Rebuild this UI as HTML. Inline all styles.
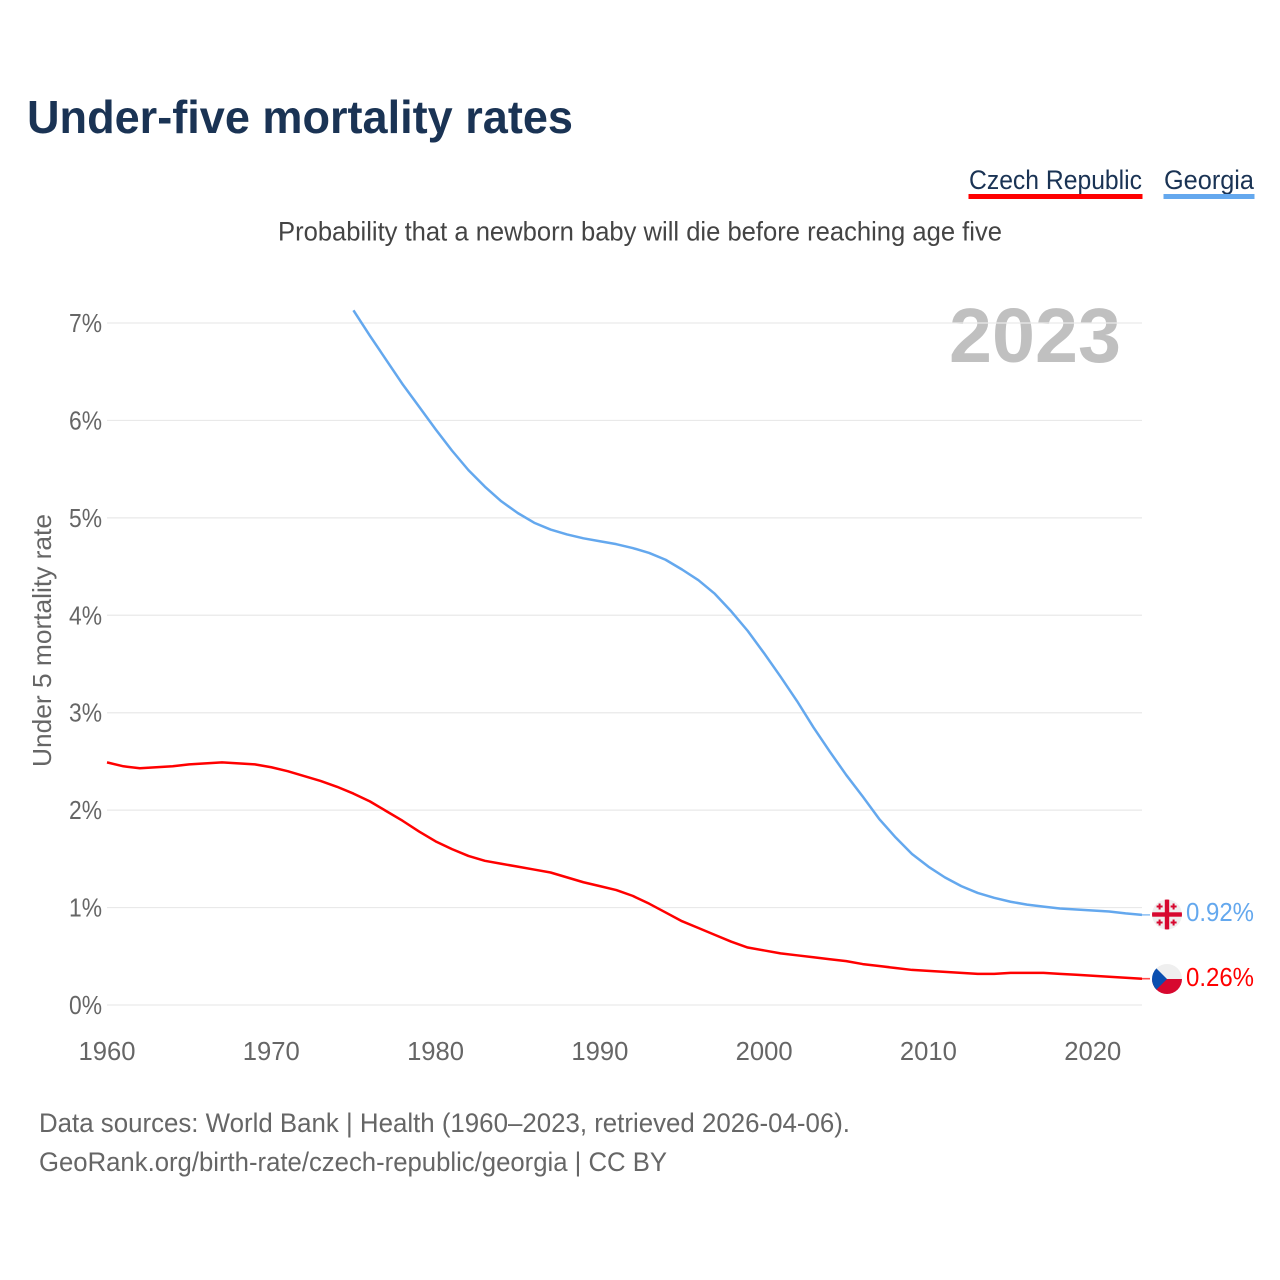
<!DOCTYPE html>
<html lang="en">
<head>
<meta charset="utf-8">
<title>Under-five mortality rates</title>
<style>
html,body{margin:0;padding:0;background:#fff;width:1280px;height:1280px;overflow:hidden}
svg{display:block}
text{font-family:"Liberation Sans",sans-serif}
</style>
</head>
<body>
<svg id="chart" width="1280" height="1280" viewBox="0 0 1280 1280" xmlns="http://www.w3.org/2000/svg">
  <defs>
    <clipPath id="clip-georgia"><circle cx="1167" cy="914.5" r="15"/></clipPath>
    <clipPath id="clip-czech"><circle cx="1167" cy="979" r="15"/></clipPath>
  </defs>
  <rect x="0" y="0" width="1280" height="1280" fill="#ffffff"/>
  <text x="27" y="133" font-size="46" font-weight="700" fill="#1a3354" textLength="546" lengthAdjust="spacingAndGlyphs">Under-five mortality rates</text>

  <text x="969" y="189" font-size="27" fill="#1a3354" textLength="173" lengthAdjust="spacingAndGlyphs">Czech Republic</text>
  <rect x="968.5" y="194" width="174" height="5" fill="#ff0000"/>
  <text x="1164" y="189" font-size="27" fill="#1a3354" textLength="90" lengthAdjust="spacingAndGlyphs">Georgia</text>
  <rect x="1163.5" y="194" width="91" height="5" fill="#64a8ee"/>

  <text x="278" y="240.5" font-size="27" fill="#444444" textLength="724" lengthAdjust="spacingAndGlyphs">Probability that a newborn baby will die before reaching age five</text>
  <text x="949" y="362" font-size="77" font-weight="700" fill="#c0c0c0" textLength="172" lengthAdjust="spacingAndGlyphs">2023</text>
  <text transform="translate(51,767) rotate(-90)" font-size="26" fill="#666666" textLength="253" lengthAdjust="spacingAndGlyphs">Under 5 mortality rate</text>

  <g id="grid"></g>
  <g id="y-ticks"></g>
  <g id="x-ticks"></g>
  <g id="series"></g>

  <g clip-path="url(#clip-georgia)">
    <rect x="1150" y="897" width="34" height="34" fill="#efefef"/>
    <rect x="1164.8" y="897" width="4.4" height="34" fill="#d7082f"/>
    <rect x="1150" y="912.3" width="34" height="4.4" fill="#d7082f"/>
    <path fill="#d7082f" d="M1158.6 903.5h2v2h2v2h-2v2h-2v-2h-2v-2h2zM1172.6 903.5h2v2h2v2h-2v2h-2v-2h-2v-2h2zM1158.6 919.5h2v2h2v2h-2v2h-2v-2h-2v-2h2zM1172.6 919.5h2v2h2v2h-2v2h-2v-2h-2v-2h2z"/>
  </g>
  <g clip-path="url(#clip-czech)">
    <rect x="1150" y="962" width="34" height="17" fill="#efefef"/>
    <rect x="1150" y="979" width="34" height="17" fill="#d7082f"/>
    <path d="M1150 962L1167 979L1150 996Z" fill="#0a4fb0"/>
  </g>

  <text id="label-georgia" x="1186" y="921" font-size="26" fill="#64a8ee" textLength="68" lengthAdjust="spacingAndGlyphs"></text>
  <text id="label-czech" x="1186" y="986" font-size="26" fill="#ff0000" textLength="68" lengthAdjust="spacingAndGlyphs"></text>

  <text x="39" y="1132" font-size="27" fill="#666666" textLength="811" lengthAdjust="spacingAndGlyphs">Data sources: World Bank | Health (1960–2023, retrieved 2026-04-06).</text>
  <text x="39" y="1171" font-size="27" fill="#666666" textLength="628" lengthAdjust="spacingAndGlyphs">GeoRank.org/birth-rate/czech-republic/georgia | CC BY</text>
</svg>
<script>
const yTickValues = [0, 1, 2, 3, 4, 5, 6, 7];
const xTickYears = [1960, 1970, 1980, 1990, 2000, 2010, 2020];
const czechYears = [1960,1961,1962,1963,1964,1965,1966,1967,1968,1969,1970,1971,1972,1973,1974,1975,1976,1977,1978,1979,1980,1981,1982,1983,1984,1985,1986,1987,1988,1989,1990,1991,1992,1993,1994,1995,1996,1997,1998,1999,2000,2001,2002,2003,2004,2005,2006,2007,2008,2009,2010,2011,2012,2013,2014,2015,2016,2017,2018,2019,2020,2021,2022,2023];
const czechValues = [2.49,2.45,2.43,2.44,2.45,2.47,2.48,2.49,2.48,2.47,2.44,2.40,2.35,2.30,2.24,2.17,2.09,1.99,1.89,1.78,1.68,1.60,1.53,1.48,1.45,1.42,1.39,1.36,1.31,1.26,1.22,1.18,1.12,1.04,0.95,0.86,0.79,0.72,0.65,0.59,0.56,0.53,0.51,0.49,0.47,0.45,0.42,0.40,0.38,0.36,0.35,0.34,0.33,0.32,0.32,0.33,0.33,0.33,0.32,0.31,0.30,0.29,0.28,0.27];
const georgiaYears = [1975,1976,1977,1978,1979,1980,1981,1982,1983,1984,1985,1986,1987,1988,1989,1990,1991,1992,1993,1994,1995,1996,1997,1998,1999,2000,2001,2002,2003,2004,2005,2006,2007,2008,2009,2010,2011,2012,2013,2014,2015,2016,2017,2018,2019,2020,2021,2022,2023];
const georgiaValues = [7.13,6.87,6.62,6.37,6.14,5.91,5.69,5.49,5.32,5.17,5.05,4.95,4.88,4.83,4.79,4.76,4.73,4.69,4.64,4.57,4.47,4.36,4.22,4.04,3.84,3.61,3.37,3.12,2.85,2.60,2.36,2.14,1.91,1.72,1.55,1.42,1.31,1.22,1.15,1.10,1.06,1.03,1.01,0.99,0.98,0.97,0.96,0.94,0.925];
const czechLabel = "0.26%";
const georgiaLabel = "0.92%";

const SVG_NS = "http://www.w3.org/2000/svg";
function xScale(year) { return 107 + (year - 1960) * (1142 - 107) / 63; }
function yScale(value) { return 1005 - value * (1005 - 323) / 7; }
function make(tag, parent, attrs) {
  const el = document.createElementNS(SVG_NS, tag);
  for (const k in attrs) el.setAttribute(k, attrs[k]);
  parent.appendChild(el);
  return el;
}

const grid = document.getElementById("grid");
const yTicks = document.getElementById("y-ticks");
const xTicks = document.getElementById("x-ticks");
const series = document.getElementById("series");

yTickValues.forEach(function (v) {
  const line = make("line", grid, { x1: 107, x2: 1142, y1: yScale(v), y2: yScale(v), stroke: "#e9e9e9", "stroke-width": 1.2 });
  
  
  const t = make("text", yTicks, { x: 69, y: yScale(v) + 9, "font-size": 26, fill: "#666666", textLength: 33, lengthAdjust: "spacingAndGlyphs" });
  
  
  t.textContent = v + "%";
});

xTickYears.forEach(function (yr) {
  const t = make("text", xTicks, { x: xScale(yr) - 28.5, y: 1060, "font-size": 26, fill: "#666666", textLength: 57, lengthAdjust: "spacingAndGlyphs" });
  
  
  t.textContent = yr;
});

function drawSeries(years, values, color) {
  const pts = years.map(function (yr, i) { return xScale(yr).toFixed(2) + "," + yScale(values[i]).toFixed(2); }).join(" ");
  return make("polyline", series, { points: pts, fill: "none", stroke: color, "stroke-width": 2.5, "stroke-linejoin": "round" });
}
function drawLeader(years, values, color) {
  const last = values[values.length - 1];
  const endX = xScale(years[years.length - 1]);
  return make("line", series, { x1: endX, x2: endX + 8, y1: yScale(last), y2: yScale(last), stroke: color, "stroke-width": 1.6, "stroke-opacity": 0.7 });
}

const czechLine = drawSeries(czechYears, czechValues, "#ff0000");


const georgiaLine = drawSeries(georgiaYears, georgiaValues, "#64a8ee");


const czechLeader = drawLeader(czechYears, czechValues, "#ff0000");


const georgiaLeader = drawLeader(georgiaYears, georgiaValues, "#64a8ee");



document.getElementById("label-czech").textContent = czechLabel;
document.getElementById("label-georgia").textContent = georgiaLabel;
</script>
</body>
</html>
